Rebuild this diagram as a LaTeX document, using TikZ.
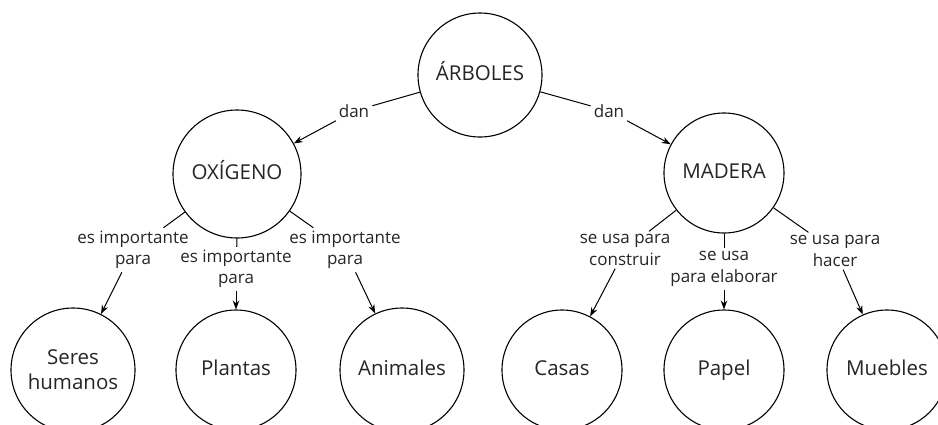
\documentclass[tikz,border=0pt]{standalone}
\usepackage{fontspec}
\setmainfont{Open Sans}
\usetikzlibrary{arrows.meta}
\begin{document}
\begin{tikzpicture}[x=1pt,y=-1pt,
  concept/.style={circle,draw=black,line width=1.1pt,minimum size=124pt,inner sep=0pt,
    align=center,text=black!85,font=\fontsize{20.5}{25}\selectfont},
  oneline/.style={text height=14pt,text depth=4pt},
  linklabel/.style={align=center,inner sep=3pt,text=black!85,
    font=\fontsize{17}{21.5}\selectfont},
  conn/.style={line width=1pt,draw=black},
  arr/.style={conn,-{Stealth[length=9pt,width=6.5pt]}}
]
\useasboundingbox (0,0) rectangle (938,424);
\clip (0,0) rectangle (938,424);
\fill[white] (0,0) rectangle (938,424);

\node[concept,oneline] (arb) at (480,75) {ÁRBOLES};
\node[concept,oneline,minimum size=128pt] (oxi) at (237,174) {OXÍGENO};
\node[concept,oneline,minimum size=120pt] (mad) at (724,173) {MADERA};
\node[concept] (sh) at (73,370) {Seres\\humanos};
\node[concept,oneline,minimum size=120pt] (pl) at (236,370) {Plantas};
\node[concept,oneline] (an) at (402,370) {Animales};
\node[concept,oneline,minimum size=120pt] (ca) at (562,370) {Casas};
\node[concept,oneline,minimum size=120pt] (pa) at (724,370) {Papel};
\node[concept,oneline,minimum size=120pt] (mu) at (887,370) {Muebles};

\node[linklabel] (d1) at (354,111) {dan};
\node[linklabel] (d2) at (609,111) {dan};
\node[linklabel] (l1) at (133,250) {es importante\\para};
\node[linklabel] (l2) at (236,269) {es importante\\para};
\node[linklabel] (l3) at (345,250) {es importante\\para};
\node[linklabel] (l4) at (625,250) {se usa para\\construir};
\node[linklabel] (l5) at (724,269) {se usa\\para elaborar};
\node[linklabel] (l6) at (835,251) {se usa para\\hacer};

\draw[conn] (arb) -- (d1);
\draw[arr] (d1) -- (oxi);
\draw[conn] (arb) -- (d2);
\draw[arr] (d2) -- (mad);

\draw[conn] (oxi) -- (l1);
\draw[arr] (l1) -- (sh);
\draw[conn] (oxi.south) -- (l2);
\draw[arr] (l2) -- (pl);
\draw[conn] (oxi) -- (l3);
\draw[arr] (l3) -- (an);

\draw[conn] (mad) -- (l4);
\draw[arr] (l4) -- (ca);
\draw[conn] (mad.south) -- (l5);
\draw[arr] (l5) -- (pa);
\draw[conn] (mad) -- (l6);
\draw[arr] (l6) -- (mu);
\end{tikzpicture}
\end{document}
